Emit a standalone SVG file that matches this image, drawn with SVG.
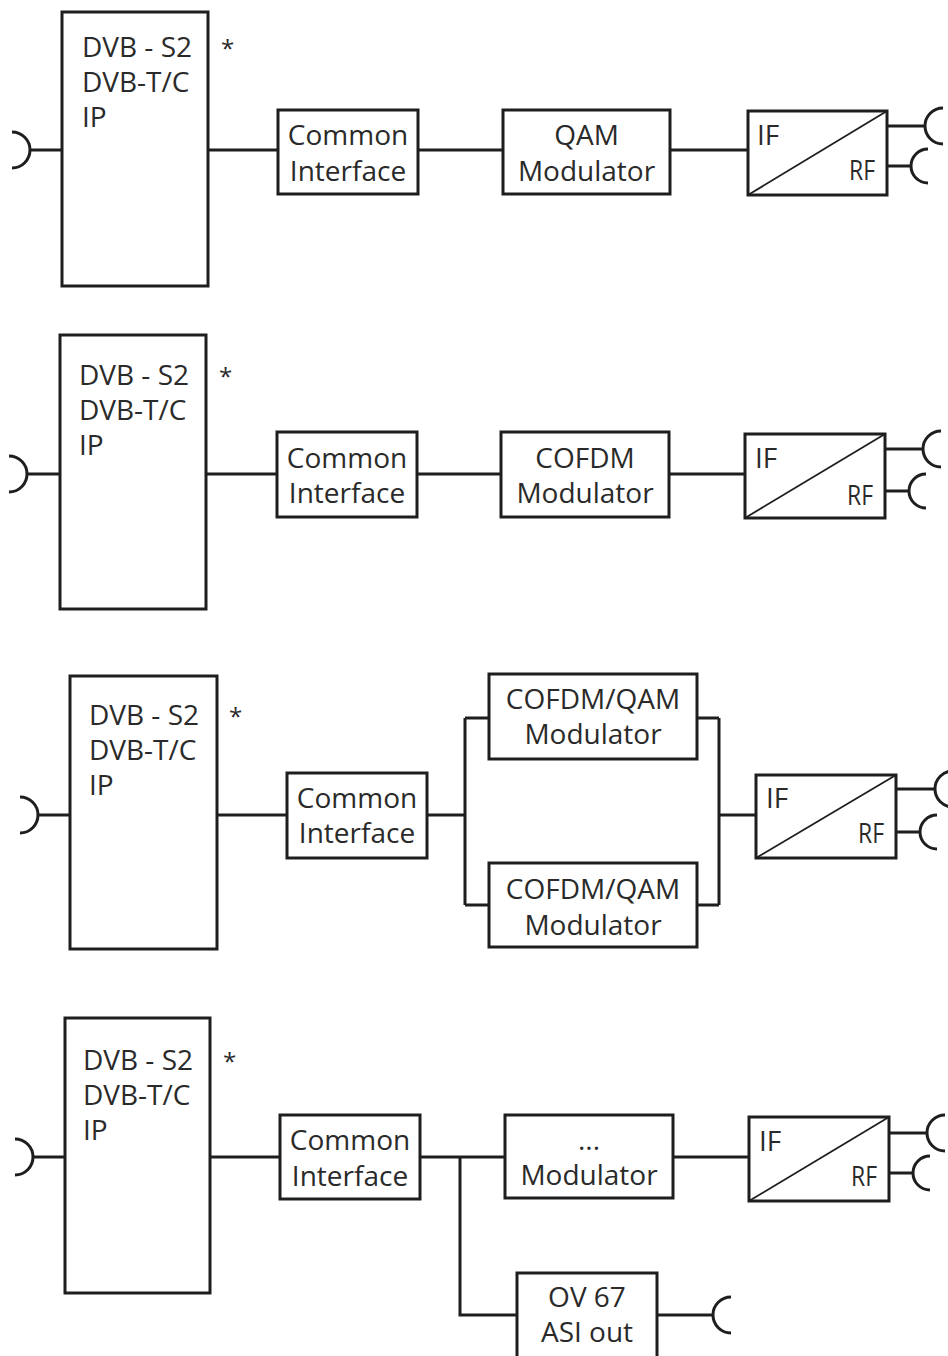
<svg xmlns="http://www.w3.org/2000/svg" width="948" height="1356" viewBox="0 0 948 1356">
<style>
.b{fill:#fff;stroke:#1e1e1e;stroke-width:3}
.w{fill:none;stroke:#1e1e1e;stroke-width:3}
.d{fill:none;stroke:#1e1e1e;stroke-width:1.8}
text{font-family:"Open Sans","Noto Sans","DejaVu Sans",sans-serif;font-size:28px;fill:#2a2a2a}
.c{text-anchor:middle}
.r{text-anchor:end}
.s{font-size:24px}
</style>
<rect width="948" height="1356" fill="#fff"/>
<g id="connectors">
<!-- row 1 -->
<path class="w" d="M12,132 A18,18 0 0 1 12,168 M30,150 H62"/>
<path class="w" d="M208,150 H278 M418,150 H503 M670,150 H748"/>
<path class="w" d="M887,126 H925 M943,108 A18,18 0 0 0 943,144 M887,166 H911 M928,149 A17,17 0 0 0 928,183"/>
<!-- row 2 -->
<path class="w" d="M9,456 A18,18 0 0 1 9,492 M27,474 H60"/>
<path class="w" d="M206,474 H277 M417,474 H501 M669,474 H745"/>
<path class="w" d="M885,449 H923 M941,431 A18,18 0 0 0 941,467 M885,491 H909 M926,474 A17,17 0 0 0 926,508"/>
<!-- row 3 -->
<path class="w" d="M20,797 A18,18 0 0 1 20,833 M38,815 H70"/>
<path class="w" d="M217,815 H287 M427,815 H465 M465,718 V905 M465,718 H489 M465,905 H489"/>
<path class="w" d="M697,718 H719 M697,905 H719 M719,718 V905 M719,815 H756"/>
<path class="w" d="M896,789 H935 M953,771 A18,18 0 0 0 953,807 M896,832 H920 M937,815 A17,17 0 0 0 937,849"/>
<!-- row 4 -->
<path class="w" d="M15,1139 A18,18 0 0 1 15,1175 M33,1157 H65"/>
<path class="w" d="M210,1157 H280 M420,1157 H505 M460,1157 V1315 H517 M673,1157 H749"/>
<path class="w" d="M889,1133 H927 M945,1115 A18,18 0 0 0 945,1151 M889,1173 H913 M930,1156 A17,17 0 0 0 930,1190"/>
<path class="w" d="M657,1315 H713 M731,1297 A18,18 0 0 0 731,1333"/>
</g>
<!-- row 1 nodes -->
<g id="tuner1">
<rect class="b" x="62" y="12" width="146" height="274"/>
<text x="82" y="57">DVB - S2</text>
<text x="82" y="92">DVB-T/C</text>
<text x="82" y="127">IP</text>
<text class="s" x="221" y="57">*</text>
</g>
<g id="ci1">
<rect class="b" x="278" y="110" width="140" height="84"/>
<text class="c" x="348" y="145">Common</text>
<text class="c" x="348" y="181">Interface</text>
</g>
<g id="qam1">
<rect class="b" x="503" y="110" width="167" height="84"/>
<text class="c" x="586.5" y="145">QAM</text>
<text class="c" x="586.5" y="181">Modulator</text>
</g>
<g id="ifrf1">
<rect class="b" x="748" y="111" width="139" height="84"/>
<line class="d" x1="748" y1="195" x2="887" y2="111"/>
<text x="757" y="145">IF</text>
<text class="r" x="875" y="180" textLength="26" lengthAdjust="spacingAndGlyphs">RF</text>
</g>
<!-- row 2 nodes -->
<g id="tuner2">
<rect class="b" x="60" y="335" width="146" height="274"/>
<text x="79" y="385">DVB - S2</text>
<text x="79" y="420">DVB-T/C</text>
<text x="79" y="455">IP</text>
<text class="s" x="219" y="385">*</text>
</g>
<g id="ci2">
<rect class="b" x="277" y="432" width="140" height="85"/>
<text class="c" x="347" y="468">Common</text>
<text class="c" x="347" y="503">Interface</text>
</g>
<g id="cofdm2">
<rect class="b" x="501" y="432" width="168" height="85"/>
<text class="c" x="585" y="468">COFDM</text>
<text class="c" x="585" y="503">Modulator</text>
</g>
<g id="ifrf2">
<rect class="b" x="745" y="434" width="140" height="84"/>
<line class="d" x1="745" y1="518" x2="885" y2="434"/>
<text x="755" y="468">IF</text>
<text class="r" x="873" y="505" textLength="26" lengthAdjust="spacingAndGlyphs">RF</text>
</g>
<!-- row 3 nodes -->
<g id="tuner3">
<rect class="b" x="70" y="676" width="147" height="273"/>
<text x="89" y="725">DVB - S2</text>
<text x="89" y="760">DVB-T/C</text>
<text x="89" y="795">IP</text>
<text class="s" x="229" y="725">*</text>
</g>
<g id="ci3">
<rect class="b" x="287" y="773" width="140" height="85"/>
<text class="c" x="357" y="808">Common</text>
<text class="c" x="357" y="843">Interface</text>
</g>
<g id="mod3a">
<rect class="b" x="489" y="674" width="208" height="85"/>
<text class="c" x="593" y="709">COFDM/QAM</text>
<text class="c" x="593" y="744">Modulator</text>
</g>
<g id="mod3b">
<rect class="b" x="489" y="863" width="208" height="84"/>
<text class="c" x="593" y="899">COFDM/QAM</text>
<text class="c" x="593" y="935">Modulator</text>
</g>
<g id="ifrf3">
<rect class="b" x="756" y="775" width="140" height="83"/>
<line class="d" x1="756" y1="858" x2="896" y2="775"/>
<text x="766" y="808">IF</text>
<text class="r" x="884" y="843" textLength="26" lengthAdjust="spacingAndGlyphs">RF</text>
</g>
<!-- row 4 nodes -->
<g id="tuner4">
<rect class="b" x="65" y="1018" width="145" height="275"/>
<text x="83" y="1070">DVB - S2</text>
<text x="83" y="1105">DVB-T/C</text>
<text x="83" y="1140">IP</text>
<text class="s" x="223" y="1070">*</text>
</g>
<g id="ci4">
<rect class="b" x="280" y="1115" width="140" height="84"/>
<text class="c" x="350" y="1150">Common</text>
<text class="c" x="350" y="1186">Interface</text>
</g>
<g id="mod4">
<rect class="b" x="505" y="1115" width="168" height="83"/>
<text class="c" x="589" y="1150">...</text>
<text class="c" x="589" y="1185">Modulator</text>
</g>
<g id="ifrf4">
<rect class="b" x="749" y="1117" width="140" height="84"/>
<line class="d" x1="749" y1="1201" x2="889" y2="1117"/>
<text x="759" y="1151">IF</text>
<text class="r" x="877" y="1186" textLength="26" lengthAdjust="spacingAndGlyphs">RF</text>
</g>
<g id="asi4">
<rect class="b" x="517" y="1273" width="140" height="90"/>
<text class="c" x="587" y="1307">OV 67</text>
<text class="c" x="587" y="1342">ASI out</text>
</g>
</svg>
